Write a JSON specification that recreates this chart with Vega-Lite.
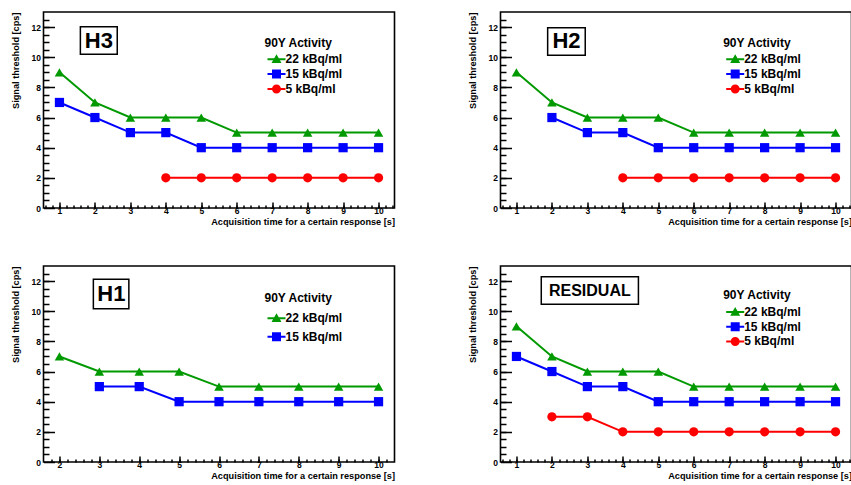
{
  "$schema": "https://vega.github.io/schema/vega-lite/v6.json",
  "padding": {"left": 9.5, "top": 11, "right": 0, "bottom": 0},
  "background": "white",
  "config": {
    "view": {"stroke": "black", "strokeWidth": 1.6},
    "font": "Liberation Sans",
    "axis": {
      "labelFont": "Liberation Sans", "labelFontWeight": "bold", "labelFontSize": 8.5, "labelColor": "black",
      "titleFont": "Liberation Sans", "titleFontWeight": "bold", "titleFontSize": 9.2, "titleColor": "black",
      "grid": false, "domain": false, "tickColor": "black", "tickWidth": 1.5, "labelFlush": false, "labelOverlap": false
    },
    "legend": {
      "orient": "none", "padding": 0,
      "titleFont": "Liberation Sans", "titleFontWeight": "bold", "titleFontSize": 12, "titleColor": "black",
      "labelFont": "Liberation Sans", "labelFontWeight": "bold", "labelFontSize": 12, "labelColor": "black",
      "symbolSize": 100, "symbolOffset": 6, "labelOffset": 3, "symbolStrokeWidth": 0
    }
  },
  "datasets": {
    "h3": [
      {"t":1,"v":9,"s":"22 kBq/ml"},{"t":2,"v":7,"s":"22 kBq/ml"},{"t":3,"v":6,"s":"22 kBq/ml"},{"t":4,"v":6,"s":"22 kBq/ml"},{"t":5,"v":6,"s":"22 kBq/ml"},{"t":6,"v":5,"s":"22 kBq/ml"},{"t":7,"v":5,"s":"22 kBq/ml"},{"t":8,"v":5,"s":"22 kBq/ml"},{"t":9,"v":5,"s":"22 kBq/ml"},{"t":10,"v":5,"s":"22 kBq/ml"},
      {"t":1,"v":7,"s":"15 kBq/ml"},{"t":2,"v":6,"s":"15 kBq/ml"},{"t":3,"v":5,"s":"15 kBq/ml"},{"t":4,"v":5,"s":"15 kBq/ml"},{"t":5,"v":4,"s":"15 kBq/ml"},{"t":6,"v":4,"s":"15 kBq/ml"},{"t":7,"v":4,"s":"15 kBq/ml"},{"t":8,"v":4,"s":"15 kBq/ml"},{"t":9,"v":4,"s":"15 kBq/ml"},{"t":10,"v":4,"s":"15 kBq/ml"},
      {"t":4,"v":2,"s":"5 kBq/ml"},{"t":5,"v":2,"s":"5 kBq/ml"},{"t":6,"v":2,"s":"5 kBq/ml"},{"t":7,"v":2,"s":"5 kBq/ml"},{"t":8,"v":2,"s":"5 kBq/ml"},{"t":9,"v":2,"s":"5 kBq/ml"},{"t":10,"v":2,"s":"5 kBq/ml"}
    ],
    "h2": [
      {"t":1,"v":9,"s":"22 kBq/ml"},{"t":2,"v":7,"s":"22 kBq/ml"},{"t":3,"v":6,"s":"22 kBq/ml"},{"t":4,"v":6,"s":"22 kBq/ml"},{"t":5,"v":6,"s":"22 kBq/ml"},{"t":6,"v":5,"s":"22 kBq/ml"},{"t":7,"v":5,"s":"22 kBq/ml"},{"t":8,"v":5,"s":"22 kBq/ml"},{"t":9,"v":5,"s":"22 kBq/ml"},{"t":10,"v":5,"s":"22 kBq/ml"},
      {"t":2,"v":6,"s":"15 kBq/ml"},{"t":3,"v":5,"s":"15 kBq/ml"},{"t":4,"v":5,"s":"15 kBq/ml"},{"t":5,"v":4,"s":"15 kBq/ml"},{"t":6,"v":4,"s":"15 kBq/ml"},{"t":7,"v":4,"s":"15 kBq/ml"},{"t":8,"v":4,"s":"15 kBq/ml"},{"t":9,"v":4,"s":"15 kBq/ml"},{"t":10,"v":4,"s":"15 kBq/ml"},
      {"t":4,"v":2,"s":"5 kBq/ml"},{"t":5,"v":2,"s":"5 kBq/ml"},{"t":6,"v":2,"s":"5 kBq/ml"},{"t":7,"v":2,"s":"5 kBq/ml"},{"t":8,"v":2,"s":"5 kBq/ml"},{"t":9,"v":2,"s":"5 kBq/ml"},{"t":10,"v":2,"s":"5 kBq/ml"}
    ],
    "h1": [
      {"t":2,"v":7,"s":"22 kBq/ml"},{"t":3,"v":6,"s":"22 kBq/ml"},{"t":4,"v":6,"s":"22 kBq/ml"},{"t":5,"v":6,"s":"22 kBq/ml"},{"t":6,"v":5,"s":"22 kBq/ml"},{"t":7,"v":5,"s":"22 kBq/ml"},{"t":8,"v":5,"s":"22 kBq/ml"},{"t":9,"v":5,"s":"22 kBq/ml"},{"t":10,"v":5,"s":"22 kBq/ml"},
      {"t":3,"v":5,"s":"15 kBq/ml"},{"t":4,"v":5,"s":"15 kBq/ml"},{"t":5,"v":4,"s":"15 kBq/ml"},{"t":6,"v":4,"s":"15 kBq/ml"},{"t":7,"v":4,"s":"15 kBq/ml"},{"t":8,"v":4,"s":"15 kBq/ml"},{"t":9,"v":4,"s":"15 kBq/ml"},{"t":10,"v":4,"s":"15 kBq/ml"}
    ],
    "res": [
      {"t":1,"v":9,"s":"22 kBq/ml"},{"t":2,"v":7,"s":"22 kBq/ml"},{"t":3,"v":6,"s":"22 kBq/ml"},{"t":4,"v":6,"s":"22 kBq/ml"},{"t":5,"v":6,"s":"22 kBq/ml"},{"t":6,"v":5,"s":"22 kBq/ml"},{"t":7,"v":5,"s":"22 kBq/ml"},{"t":8,"v":5,"s":"22 kBq/ml"},{"t":9,"v":5,"s":"22 kBq/ml"},{"t":10,"v":5,"s":"22 kBq/ml"},
      {"t":1,"v":7,"s":"15 kBq/ml"},{"t":2,"v":6,"s":"15 kBq/ml"},{"t":3,"v":5,"s":"15 kBq/ml"},{"t":4,"v":5,"s":"15 kBq/ml"},{"t":5,"v":4,"s":"15 kBq/ml"},{"t":6,"v":4,"s":"15 kBq/ml"},{"t":7,"v":4,"s":"15 kBq/ml"},{"t":8,"v":4,"s":"15 kBq/ml"},{"t":9,"v":4,"s":"15 kBq/ml"},{"t":10,"v":4,"s":"15 kBq/ml"},
      {"t":2,"v":3,"s":"5 kBq/ml"},{"t":3,"v":3,"s":"5 kBq/ml"},{"t":4,"v":2,"s":"5 kBq/ml"},{"t":5,"v":2,"s":"5 kBq/ml"},{"t":6,"v":2,"s":"5 kBq/ml"},{"t":7,"v":2,"s":"5 kBq/ml"},{"t":8,"v":2,"s":"5 kBq/ml"},{"t":9,"v":2,"s":"5 kBq/ml"},{"t":10,"v":2,"s":"5 kBq/ml"}
    ]
  },
  "columns": 2,
  "spacing": {"row": 58, "column": 106},
  "bounds": "flush",
  "resolve": {
    "scale": {"x": "independent", "y": "independent", "color": "independent"},
    "legend": {"color": "independent"}
  },
  "concat": [
    {
      "width": 351, "height": 196,
      "data": {"name": "h3"},
      "resolve": {"axis": {"x": "independent", "y": "independent"}},
      "layer": [
        {
          "data": {"values": [{}]},
          "mark": {"type": "rect", "fill": "white", "stroke": "black", "strokeWidth": 1.5},
          "encoding": {
            "x": {"datum": 1.59, "type": "quantitative", "scale": {"domain": [0.55, 10.45], "nice": false, "zero": false},
                  "axis": {"orient": "bottom", "values": [0.6,0.8,1,1.2,1.4,1.6,1.8,2,2.2,2.4,2.6,2.8,3,3.2,3.4,3.6,3.8,4,4.2,4.4,4.6,4.8,5,5.2,5.4,5.6,5.8,6,6.2,6.4,6.6,6.8,7,7.2,7.4,7.6,7.8,8,8.2,8.4,8.6,8.8,9,9.2,9.4,9.6,9.8,10,10.2,10.4], "labels": false, "title": null, "tickSize": -3}},
            "x2": {"datum": 2.63},
            "y": {"datum": 12.02, "type": "quantitative", "scale": {"domain": [0, 13], "nice": false, "zero": false},
                  "axis": {"orient": "left", "values": [0.5,1,1.5,2,2.5,3,3.5,4,4.5,5,5.5,6,6.5,7,7.5,8,8.5,9,9.5,10,10.5,11,11.5,12,12.5], "labels": false, "title": null, "tickSize": -5.5}},
            "y2": {"datum": 10.19}
          }
        },
        {
          "data": {"values": [{}]},
          "mark": {"type": "text", "text": "H3", "font": "Liberation Sans", "fontWeight": "bold", "fontSize": 22, "color": "black", "align": "center", "baseline": "middle"},
          "encoding": {"x": {"datum": 2.11, "type": "quantitative", "axis": null}, "y": {"datum": 11.1, "type": "quantitative", "axis": null}}
        },
        {
          "transform": [{"filter": {"field": "s", "equal": "22 kBq/ml"}}],
          "mark": {"type": "line", "strokeWidth": 2, "color": "#009900"},
          "encoding": {
            "x": {"field": "t", "type": "quantitative",
                  "axis": {"orient": "bottom", "values": [1,2,3,4,5,6,7,8,9,10], "ticks": false, "labelPadding": -2, "title": "Acquisition time for a certain response [s]", "titleAnchor": "end", "titlePadding": 3}},
            "y": {"field": "v", "type": "quantitative",
                  "axis": {"orient": "left", "values": [0,2,4,6,8,10,12], "ticks": false, "labelPadding": 3, "title": "Signal threshold [cps]", "titleAnchor": "end", "titlePadding": 11}}
          }
        },
        {
          "transform": [{"filter": {"field": "s", "equal": "15 kBq/ml"}}],
          "mark": {"type": "line", "strokeWidth": 2, "color": "#0000ff"},
          "encoding": {"x": {"field": "t", "type": "quantitative", "axis": null}, "y": {"field": "v", "type": "quantitative", "axis": null}}
        },
        {
          "transform": [{"filter": {"field": "s", "equal": "5 kBq/ml"}}],
          "mark": {"type": "line", "strokeWidth": 2, "color": "#ff0000"},
          "encoding": {"x": {"field": "t", "type": "quantitative", "axis": null}, "y": {"field": "v", "type": "quantitative", "axis": null}}
        },
        {
          "transform": [{"filter": {"field": "s", "equal": "22 kBq/ml"}}],
          "mark": {"type": "point", "shape": "triangle-up", "filled": true, "opacity": 1, "size": 90, "strokeWidth": 0, "color": "#009900"},
          "encoding": {
            "x": {"field": "t", "type": "quantitative", "axis": {"orient": "bottom", "values": [1,2,3,4,5,6,7,8,9,10], "labels": false, "title": null, "tickSize": -6}},
            "y": {"field": "v", "type": "quantitative", "axis": {"orient": "left", "values": [0,2,4,6,8,10,12], "labels": false, "title": null, "tickSize": -11}}
          }
        },
        {
          "transform": [{"filter": {"field": "s", "equal": "15 kBq/ml"}}],
          "mark": {"type": "point", "shape": "square", "filled": true, "opacity": 1, "size": 85, "strokeWidth": 0, "color": "#0000ff"},
          "encoding": {"x": {"field": "t", "type": "quantitative", "axis": null}, "y": {"field": "v", "type": "quantitative", "axis": null}}
        },
        {
          "transform": [{"filter": {"field": "s", "equal": "5 kBq/ml"}}],
          "mark": {"type": "point", "shape": "circle", "filled": true, "opacity": 1, "size": 85, "strokeWidth": 0, "color": "#ff0000"},
          "encoding": {"x": {"field": "t", "type": "quantitative", "axis": null}, "y": {"field": "v", "type": "quantitative", "axis": null}}
        },
        {
          "transform": [{"filter": "false"}],
          "mark": {"type": "point", "filled": true, "opacity": 1, "strokeWidth": 0},
          "encoding": {
            "x": {"field": "t", "type": "quantitative", "axis": null}, "y": {"field": "v", "type": "quantitative", "axis": null},
            "color": {"field": "s", "type": "nominal", "scale": {"domain": ["22 kBq/ml", "15 kBq/ml", "5 kBq/ml"], "range": ["#009900", "#0000ff", "#ff0000"]},
                      "legend": {"orient": "none", "title": "90Y Activity", "legendX": 221, "legendY": 25.7, "titlePadding": 3.6, "rowPadding": 2.8, "labelExpr": "datum.label == '5 kBq/ml' ? '\u00a0\u00a05 kBq/ml' : datum.label",
                                 "symbolType": {"expr": "datum.value === '22 kBq/ml' ? 'M-1.8,-0.2H1.8V0.2H-1.8ZM0,-1L1,0.75H-1Z' : datum.value === '15 kBq/ml' ? 'M-1.8,-0.2H1.8V0.2H-1.8ZM-0.9,-0.9H0.9V0.9H-0.9Z' : 'M-1.8,-0.2H1.8V0.2H-1.8ZM-0.9,0A0.9,0.9,0,1,1,0.9,0A0.9,0.9,0,1,1,-0.9,0Z'"}}}
          }
        }
      ]
    },
    {
      "width": 351, "height": 196,
      "data": {"name": "h2"},
      "resolve": {"axis": {"x": "independent", "y": "independent"}},
      "layer": [
        {
          "data": {"values": [{}]},
          "mark": {"type": "rect", "fill": "white", "stroke": "black", "strokeWidth": 1.5},
          "encoding": {
            "x": {"datum": 1.88, "type": "quantitative", "scale": {"domain": [0.55, 10.45], "nice": false, "zero": false},
                  "axis": {"orient": "bottom", "values": [0.6,0.8,1,1.2,1.4,1.6,1.8,2,2.2,2.4,2.6,2.8,3,3.2,3.4,3.6,3.8,4,4.2,4.4,4.6,4.8,5,5.2,5.4,5.6,5.8,6,6.2,6.4,6.6,6.8,7,7.2,7.4,7.6,7.8,8,8.2,8.4,8.6,8.8,9,9.2,9.4,9.6,9.8,10,10.2,10.4], "labels": false, "title": null, "tickSize": -3}},
            "x2": {"datum": 2.94},
            "y": {"datum": 11.96, "type": "quantitative", "scale": {"domain": [0, 13], "nice": false, "zero": false},
                  "axis": {"orient": "left", "values": [0.5,1,1.5,2,2.5,3,3.5,4,4.5,5,5.5,6,6.5,7,7.5,8,8.5,9,9.5,10,10.5,11,11.5,12,12.5], "labels": false, "title": null, "tickSize": -5.5}},
            "y2": {"datum": 10.13}
          }
        },
        {
          "data": {"values": [{}]},
          "mark": {"type": "text", "text": "H2", "font": "Liberation Sans", "fontWeight": "bold", "fontSize": 22, "color": "black", "align": "center", "baseline": "middle"},
          "encoding": {"x": {"datum": 2.41, "type": "quantitative", "axis": null}, "y": {"datum": 11.05, "type": "quantitative", "axis": null}}
        },
        {
          "transform": [{"filter": {"field": "s", "equal": "22 kBq/ml"}}],
          "mark": {"type": "line", "strokeWidth": 2, "color": "#009900"},
          "encoding": {
            "x": {"field": "t", "type": "quantitative",
                  "axis": {"orient": "bottom", "values": [1,2,3,4,5,6,7,8,9,10], "ticks": false, "labelPadding": -2, "title": "Acquisition time for a certain response [s]", "titleAnchor": "end", "titlePadding": 3}},
            "y": {"field": "v", "type": "quantitative",
                  "axis": {"orient": "left", "values": [0,2,4,6,8,10,12], "ticks": false, "labelPadding": 3, "title": "Signal threshold [cps]", "titleAnchor": "end", "titlePadding": 11}}
          }
        },
        {
          "transform": [{"filter": {"field": "s", "equal": "15 kBq/ml"}}],
          "mark": {"type": "line", "strokeWidth": 2, "color": "#0000ff"},
          "encoding": {"x": {"field": "t", "type": "quantitative", "axis": null}, "y": {"field": "v", "type": "quantitative", "axis": null}}
        },
        {
          "transform": [{"filter": {"field": "s", "equal": "5 kBq/ml"}}],
          "mark": {"type": "line", "strokeWidth": 2, "color": "#ff0000"},
          "encoding": {"x": {"field": "t", "type": "quantitative", "axis": null}, "y": {"field": "v", "type": "quantitative", "axis": null}}
        },
        {
          "transform": [{"filter": {"field": "s", "equal": "22 kBq/ml"}}],
          "mark": {"type": "point", "shape": "triangle-up", "filled": true, "opacity": 1, "size": 90, "strokeWidth": 0, "color": "#009900"},
          "encoding": {
            "x": {"field": "t", "type": "quantitative", "axis": {"orient": "bottom", "values": [1,2,3,4,5,6,7,8,9,10], "labels": false, "title": null, "tickSize": -6}},
            "y": {"field": "v", "type": "quantitative", "axis": {"orient": "left", "values": [0,2,4,6,8,10,12], "labels": false, "title": null, "tickSize": -11}}
          }
        },
        {
          "transform": [{"filter": {"field": "s", "equal": "15 kBq/ml"}}],
          "mark": {"type": "point", "shape": "square", "filled": true, "opacity": 1, "size": 85, "strokeWidth": 0, "color": "#0000ff"},
          "encoding": {"x": {"field": "t", "type": "quantitative", "axis": null}, "y": {"field": "v", "type": "quantitative", "axis": null}}
        },
        {
          "transform": [{"filter": {"field": "s", "equal": "5 kBq/ml"}}],
          "mark": {"type": "point", "shape": "circle", "filled": true, "opacity": 1, "size": 85, "strokeWidth": 0, "color": "#ff0000"},
          "encoding": {"x": {"field": "t", "type": "quantitative", "axis": null}, "y": {"field": "v", "type": "quantitative", "axis": null}}
        },
        {
          "transform": [{"filter": "false"}],
          "mark": {"type": "point", "filled": true, "opacity": 1, "strokeWidth": 0},
          "encoding": {
            "x": {"field": "t", "type": "quantitative", "axis": null}, "y": {"field": "v", "type": "quantitative", "axis": null},
            "color": {"field": "s", "type": "nominal", "scale": {"domain": ["22 kBq/ml", "15 kBq/ml", "5 kBq/ml"], "range": ["#009900", "#0000ff", "#ff0000"]},
                      "legend": {"orient": "none", "title": "90Y Activity", "legendX": 222.7, "legendY": 25.7, "titlePadding": 3.6, "rowPadding": 2.8, "labelExpr": "datum.label == '5 kBq/ml' ? '\u00a0\u00a05 kBq/ml' : datum.label",
                                 "symbolType": {"expr": "datum.value === '22 kBq/ml' ? 'M-1.8,-0.2H1.8V0.2H-1.8ZM0,-1L1,0.75H-1Z' : datum.value === '15 kBq/ml' ? 'M-1.8,-0.2H1.8V0.2H-1.8ZM-0.9,-0.9H0.9V0.9H-0.9Z' : 'M-1.8,-0.2H1.8V0.2H-1.8ZM-0.9,0A0.9,0.9,0,1,1,0.9,0A0.9,0.9,0,1,1,-0.9,0Z'"}}}
          }
        }
      ]
    },
    {
      "width": 351, "height": 196,
      "data": {"name": "h1"},
      "resolve": {"axis": {"x": "independent", "y": "independent"}},
      "layer": [
        {
          "data": {"values": [{}]},
          "mark": {"type": "rect", "fill": "white", "stroke": "black", "strokeWidth": 1.5},
          "encoding": {
            "x": {"datum": 2.85, "type": "quantitative", "scale": {"domain": [1.6, 10.4], "nice": false, "zero": false},
                  "axis": {"orient": "bottom", "values": [1.8,2,2.2,2.4,2.6,2.8,3,3.2,3.4,3.6,3.8,4,4.2,4.4,4.6,4.8,5,5.2,5.4,5.6,5.8,6,6.2,6.4,6.6,6.8,7,7.2,7.4,7.6,7.8,8,8.2,8.4,8.6,8.8,9,9.2,9.4,9.6,9.8,10,10.2], "labels": false, "title": null, "tickSize": -3}},
            "x2": {"datum": 3.74},
            "y": {"datum": 12.12, "type": "quantitative", "scale": {"domain": [0, 13], "nice": false, "zero": false},
                  "axis": {"orient": "left", "values": [0.5,1,1.5,2,2.5,3,3.5,4,4.5,5,5.5,6,6.5,7,7.5,8,8.5,9,9.5,10,10.5,11,11.5,12,12.5], "labels": false, "title": null, "tickSize": -5.5}},
            "y2": {"datum": 10.17}
          }
        },
        {
          "data": {"values": [{}]},
          "mark": {"type": "text", "text": "H1", "font": "Liberation Sans", "fontWeight": "bold", "fontSize": 22, "color": "black", "align": "center", "baseline": "middle"},
          "encoding": {"x": {"datum": 3.3, "type": "quantitative", "axis": null}, "y": {"datum": 11.15, "type": "quantitative", "axis": null}}
        },
        {
          "transform": [{"filter": {"field": "s", "equal": "22 kBq/ml"}}],
          "mark": {"type": "line", "strokeWidth": 2, "color": "#009900"},
          "encoding": {
            "x": {"field": "t", "type": "quantitative",
                  "axis": {"orient": "bottom", "values": [2,3,4,5,6,7,8,9,10], "ticks": false, "labelPadding": -2, "title": "Acquisition time for a certain response [s]", "titleAnchor": "end", "titlePadding": 3}},
            "y": {"field": "v", "type": "quantitative",
                  "axis": {"orient": "left", "values": [0,2,4,6,8,10,12], "ticks": false, "labelPadding": 3, "title": "Signal threshold [cps]", "titleAnchor": "end", "titlePadding": 11}}
          }
        },
        {
          "transform": [{"filter": {"field": "s", "equal": "15 kBq/ml"}}],
          "mark": {"type": "line", "strokeWidth": 2, "color": "#0000ff"},
          "encoding": {"x": {"field": "t", "type": "quantitative", "axis": null}, "y": {"field": "v", "type": "quantitative", "axis": null}}
        },
        {
          "transform": [{"filter": {"field": "s", "equal": "22 kBq/ml"}}],
          "mark": {"type": "point", "shape": "triangle-up", "filled": true, "opacity": 1, "size": 90, "strokeWidth": 0, "color": "#009900"},
          "encoding": {
            "x": {"field": "t", "type": "quantitative", "axis": {"orient": "bottom", "values": [2,3,4,5,6,7,8,9,10], "labels": false, "title": null, "tickSize": -6}},
            "y": {"field": "v", "type": "quantitative", "axis": {"orient": "left", "values": [0,2,4,6,8,10,12], "labels": false, "title": null, "tickSize": -11}}
          }
        },
        {
          "transform": [{"filter": {"field": "s", "equal": "15 kBq/ml"}}],
          "mark": {"type": "point", "shape": "square", "filled": true, "opacity": 1, "size": 85, "strokeWidth": 0, "color": "#0000ff"},
          "encoding": {"x": {"field": "t", "type": "quantitative", "axis": null}, "y": {"field": "v", "type": "quantitative", "axis": null}}
        },
        {
          "transform": [{"filter": "false"}],
          "mark": {"type": "point", "filled": true, "opacity": 1, "strokeWidth": 0},
          "encoding": {
            "x": {"field": "t", "type": "quantitative", "axis": null}, "y": {"field": "v", "type": "quantitative", "axis": null},
            "color": {"field": "s", "type": "nominal", "scale": {"domain": ["22 kBq/ml", "15 kBq/ml"], "range": ["#009900", "#0000ff"]},
                      "legend": {"orient": "none", "title": "90Y Activity", "legendX": 221, "legendY": 27, "titlePadding": 7.3, "rowPadding": 6.4,
                                 "symbolType": {"expr": "datum.value === '22 kBq/ml' ? 'M-1.8,-0.2H1.8V0.2H-1.8ZM0,-1L1,0.75H-1Z' : 'M-1.8,-0.2H1.8V0.2H-1.8ZM-0.9,-0.9H0.9V0.9H-0.9Z'"}}}
          }
        }
      ]
    },
    {
      "width": 351, "height": 196,
      "data": {"name": "res"},
      "resolve": {"axis": {"x": "independent", "y": "independent"}},
      "layer": [
        {
          "data": {"values": [{}]},
          "mark": {"type": "rect", "fill": "white", "stroke": "black", "strokeWidth": 1.5},
          "encoding": {
            "x": {"datum": 1.7, "type": "quantitative", "scale": {"domain": [0.55, 10.45], "nice": false, "zero": false},
                  "axis": {"orient": "bottom", "values": [0.6,0.8,1,1.2,1.4,1.6,1.8,2,2.2,2.4,2.6,2.8,3,3.2,3.4,3.6,3.8,4,4.2,4.4,4.6,4.8,5,5.2,5.4,5.6,5.8,6,6.2,6.4,6.6,6.8,7,7.2,7.4,7.6,7.8,8,8.2,8.4,8.6,8.8,9,9.2,9.4,9.6,9.8,10,10.2,10.4], "labels": false, "title": null, "tickSize": -3}},
            "x2": {"datum": 4.44},
            "y": {"datum": 12.29, "type": "quantitative", "scale": {"domain": [0, 13], "nice": false, "zero": false},
                  "axis": {"orient": "left", "values": [0.5,1,1.5,2,2.5,3,3.5,4,4.5,5,5.5,6,6.5,7,7.5,8,8.5,9,9.5,10,10.5,11,11.5,12,12.5], "labels": false, "title": null, "tickSize": -5.5}},
            "y2": {"datum": 10.46}
          }
        },
        {
          "data": {"values": [{}]},
          "mark": {"type": "text", "text": "RESIDUAL", "font": "Liberation Sans", "fontWeight": "bold", "fontSize": 16, "color": "black", "align": "center", "baseline": "middle"},
          "encoding": {"x": {"datum": 3.07, "type": "quantitative", "axis": null}, "y": {"datum": 11.375, "type": "quantitative", "axis": null}}
        },
        {
          "transform": [{"filter": {"field": "s", "equal": "22 kBq/ml"}}],
          "mark": {"type": "line", "strokeWidth": 2, "color": "#009900"},
          "encoding": {
            "x": {"field": "t", "type": "quantitative",
                  "axis": {"orient": "bottom", "values": [1,2,3,4,5,6,7,8,9,10], "ticks": false, "labelPadding": -2, "title": "Acquisition time for a certain response [s]", "titleAnchor": "end", "titlePadding": 3}},
            "y": {"field": "v", "type": "quantitative",
                  "axis": {"orient": "left", "values": [0,2,4,6,8,10,12], "ticks": false, "labelPadding": 3, "title": "Signal threshold [cps]", "titleAnchor": "end", "titlePadding": 11}}
          }
        },
        {
          "transform": [{"filter": {"field": "s", "equal": "15 kBq/ml"}}],
          "mark": {"type": "line", "strokeWidth": 2, "color": "#0000ff"},
          "encoding": {"x": {"field": "t", "type": "quantitative", "axis": null}, "y": {"field": "v", "type": "quantitative", "axis": null}}
        },
        {
          "transform": [{"filter": {"field": "s", "equal": "5 kBq/ml"}}],
          "mark": {"type": "line", "strokeWidth": 2, "color": "#ff0000"},
          "encoding": {"x": {"field": "t", "type": "quantitative", "axis": null}, "y": {"field": "v", "type": "quantitative", "axis": null}}
        },
        {
          "transform": [{"filter": {"field": "s", "equal": "22 kBq/ml"}}],
          "mark": {"type": "point", "shape": "triangle-up", "filled": true, "opacity": 1, "size": 90, "strokeWidth": 0, "color": "#009900"},
          "encoding": {
            "x": {"field": "t", "type": "quantitative", "axis": {"orient": "bottom", "values": [1,2,3,4,5,6,7,8,9,10], "labels": false, "title": null, "tickSize": -6}},
            "y": {"field": "v", "type": "quantitative", "axis": {"orient": "left", "values": [0,2,4,6,8,10,12], "labels": false, "title": null, "tickSize": -11}}
          }
        },
        {
          "transform": [{"filter": {"field": "s", "equal": "15 kBq/ml"}}],
          "mark": {"type": "point", "shape": "square", "filled": true, "opacity": 1, "size": 85, "strokeWidth": 0, "color": "#0000ff"},
          "encoding": {"x": {"field": "t", "type": "quantitative", "axis": null}, "y": {"field": "v", "type": "quantitative", "axis": null}}
        },
        {
          "transform": [{"filter": {"field": "s", "equal": "5 kBq/ml"}}],
          "mark": {"type": "point", "shape": "circle", "filled": true, "opacity": 1, "size": 85, "strokeWidth": 0, "color": "#ff0000"},
          "encoding": {"x": {"field": "t", "type": "quantitative", "axis": null}, "y": {"field": "v", "type": "quantitative", "axis": null}}
        },
        {
          "transform": [{"filter": "false"}],
          "mark": {"type": "point", "filled": true, "opacity": 1, "strokeWidth": 0},
          "encoding": {
            "x": {"field": "t", "type": "quantitative", "axis": null}, "y": {"field": "v", "type": "quantitative", "axis": null},
            "color": {"field": "s", "type": "nominal", "scale": {"domain": ["22 kBq/ml", "15 kBq/ml", "5 kBq/ml"], "range": ["#009900", "#0000ff", "#ff0000"]},
                      "legend": {"orient": "none", "title": "90Y Activity", "legendX": 222.7, "legendY": 23.7, "titlePadding": 4.3, "rowPadding": 2.7, "labelExpr": "datum.label == '5 kBq/ml' ? '\u00a0\u00a05 kBq/ml' : datum.label",
                                 "symbolType": {"expr": "datum.value === '22 kBq/ml' ? 'M-1.8,-0.2H1.8V0.2H-1.8ZM0,-1L1,0.75H-1Z' : datum.value === '15 kBq/ml' ? 'M-1.8,-0.2H1.8V0.2H-1.8ZM-0.9,-0.9H0.9V0.9H-0.9Z' : 'M-1.8,-0.2H1.8V0.2H-1.8ZM-0.9,0A0.9,0.9,0,1,1,0.9,0A0.9,0.9,0,1,1,-0.9,0Z'"}}}
          }
        }
      ]
    }
  ]
}
